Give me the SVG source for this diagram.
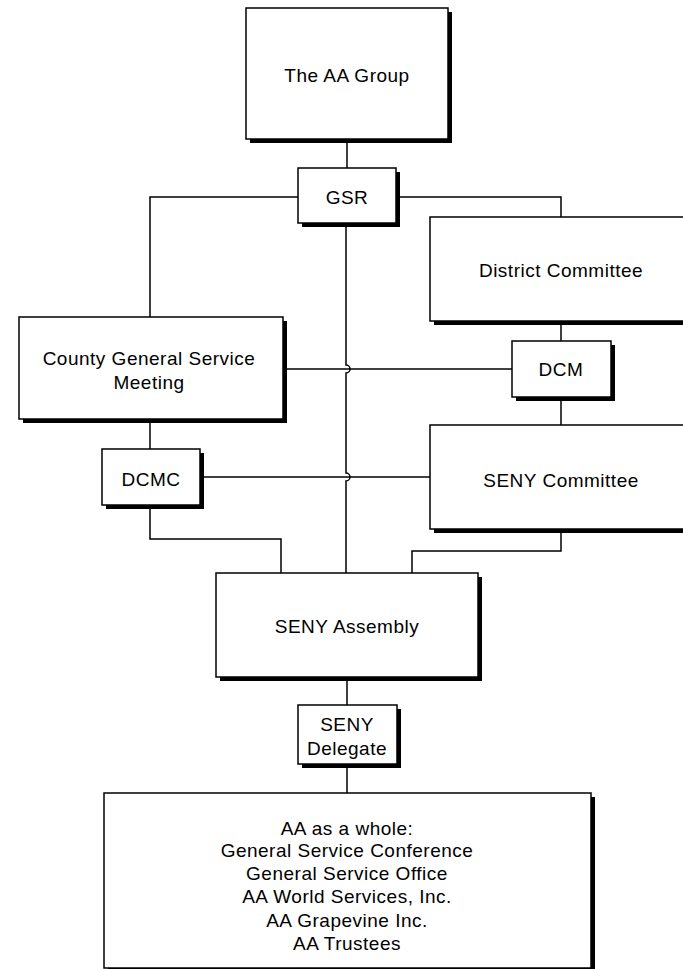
<svg xmlns="http://www.w3.org/2000/svg" width="683" height="969" viewBox="0 0 683 969">
<style>
.sh{fill:#000}
.bx{fill:#fff;stroke:#000;stroke-width:1.5}
.ln{fill:none;stroke:#000;stroke-width:1.5}
text{font-family:"Liberation Sans",Arial,sans-serif;font-size:19px;letter-spacing:0.5px;fill:#000;text-anchor:middle}
</style>
<rect width="683" height="969" fill="#fff"/>
<g id="connectors">
<path class="ln" d="M347,139 V168"/>
<path class="ln" d="M298,197 H150 V317"/>
<path class="ln" d="M397,197 H561 V217"/>
<path class="ln" d="M346,223 V365 A4,4 0 0 1 346,373 V473 A4,4 0 0 1 346,481 V573"/>
<path class="ln" d="M283,369 H512"/>
<path class="ln" d="M150,419 V449"/>
<path class="ln" d="M200,477 H430"/>
<path class="ln" d="M150,505 V539 H281 V573"/>
<path class="ln" d="M561,321 V341"/>
<path class="ln" d="M561,397 V425"/>
<path class="ln" d="M561,529 V551 H412 V573"/>
<path class="ln" d="M347,677 V705"/>
<path class="ln" d="M347,764 V793"/>
</g>
<g id="aa-group">
<rect class="sh" x="250" y="12" width="202" height="131"/>
<rect class="bx" x="246" y="8" width="202" height="131"/>
<text x="347" y="82">The AA Group</text>
</g>
<g id="gsr">
<rect class="sh" x="302" y="172" width="98" height="55"/>
<rect class="bx" x="298" y="168" width="98" height="55"/>
<text x="347" y="204">GSR</text>
</g>
<g id="district-committee">
<rect class="sh" x="434" y="221" width="262" height="104"/>
<rect class="bx" x="430" y="217" width="262" height="104"/>
<text x="561" y="277">District Committee</text>
</g>
<g id="county">
<rect class="sh" x="23" y="321" width="264" height="102"/>
<rect class="bx" x="19" y="317" width="264" height="102"/>
<text x="149" y="365">County General Service</text>
<text x="149" y="389">Meeting</text>
</g>
<g id="dcm">
<rect class="sh" x="516" y="345" width="99" height="56"/>
<rect class="bx" x="512" y="341" width="99" height="56"/>
<text x="561" y="376">DCM</text>
</g>
<g id="dcmc">
<rect class="sh" x="106" y="453" width="98" height="56"/>
<rect class="bx" x="102" y="449" width="98" height="56"/>
<text x="151" y="486">DCMC</text>
</g>
<g id="seny-committee">
<rect class="sh" x="434" y="429" width="262" height="104"/>
<rect class="bx" x="430" y="425" width="262" height="104"/>
<text x="561" y="487">SENY Committee</text>
</g>
<g id="seny-assembly">
<rect class="sh" x="220" y="577" width="262" height="104"/>
<rect class="bx" x="216" y="573" width="262" height="104"/>
<text x="347" y="633">SENY Assembly</text>
</g>
<g id="seny-delegate">
<rect class="sh" x="302" y="709" width="99" height="59"/>
<rect class="bx" x="298" y="705" width="99" height="59"/>
<text x="347" y="731">SENY</text>
<text x="347" y="755">Delegate</text>
</g>
<g id="aa-whole">
<rect class="sh" x="108" y="797" width="487" height="175"/>
<rect class="bx" x="104" y="793" width="487" height="175"/>
<text x="347" y="835">AA as a whole:</text>
<text x="347" y="857">General Service Conference</text>
<text x="347" y="880">General Service Office</text>
<text x="347" y="903">AA World Services, Inc.</text>
<text x="347" y="927">AA Grapevine Inc.</text>
<text x="347" y="950">AA Trustees</text>
</g>
</svg>
